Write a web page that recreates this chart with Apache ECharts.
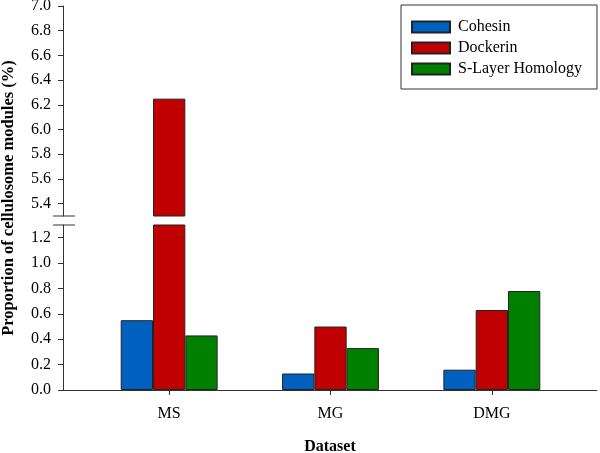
<!DOCTYPE html>
<html>
<head>
<meta charset="utf-8">
<script src="https://cdn.jsdelivr.net/npm/echarts@6/dist/echarts.min.js"></script>
<style>
  html, body { margin: 0; padding: 0; background: #fff; }
  #main { width: 600px; height: 453px; }
</style>
</head>
<body>
<div id="main"></div>
<script>
// 数据
var categories = ["MS", "MG", "DMG"];
var cohesin = [0.55, 0.13, 0.16];
var dockerin = [6.25, 0.50, 0.63];
var slh = [0.43, 0.33, 0.78];
var seriesNames = ["Cohesin", "Dockerin", "S-Layer Homology"];
var seriesData = [cohesin, dockerin, slh];
var colors = ["#0060c0", "#c00000", "#008000"];

var FONT = "Liberation Serif";
var AXIS_COLOR = "#333";

var myChart = echarts.init(document.getElementById("main"), null, { renderer: "canvas" });

// 下半段 (grid 1) 和 上半段 (grid 2) 各画一套柱子
var series = [];
[1, 2].forEach(function (g) {
  seriesData.forEach(function (d, i) {
    series.push({
      name: seriesNames[i],
      type: "bar",
      xAxisIndex: g,
      yAxisIndex: g,
      barWidth: 32.3,
      barGap: "0%",
      data: d,
      itemStyle: { color: colors[i], borderColor: "#222", borderWidth: 1 }
    });
  });
});

myChart.setOption({
  animation: false,
  textStyle: { fontFamily: FONT },
  legend: {
    orient: "vertical",
    left: 401,
    top: 5,
    padding: [14, 15, 12, 10],
    borderColor: AXIS_COLOR,
    borderWidth: 1,
    icon: "rect",
    itemWidth: 38,
    itemHeight: 11,
    itemGap: 5,
    textStyle: { fontFamily: FONT, fontSize: 16, color: "#000", padding: [0, 0, 0, 3] },
    data: seriesNames
  },
  grid: [
    // 外框: x 轴线和坐标轴名称
    { left: 63, right: 3, top: 6, bottom: 63, outerBoundsMode: "none" },
    // 下半段 0 - 1.3
    { left: 88.5, right: 27.5, top: 225, bottom: 63, outerBoundsMode: "none" },
    // 上半段 5.3 - 7.0
    { left: 88.5, right: 27.5, top: 6, bottom: 237, outerBoundsMode: "none" }
  ],
  xAxis: [
    {
      gridIndex: 0, type: "value", min: 0, max: 1,
      axisLine: { show: true, onZero: false, lineStyle: { color: AXIS_COLOR } },
      axisTick: { show: false }, axisLabel: { show: false }, splitLine: { show: false },
      name: "Dataset", nameLocation: "middle", nameGap: 49,
      nameTextStyle: { fontFamily: FONT, fontSize: 16, fontWeight: "bold", color: "#000" }
    },
    {
      gridIndex: 1, type: "category", data: categories,
      axisLine: { show: false, onZero: false },
      axisTick: { show: true, alignWithLabel: true, length: 5, lineStyle: { color: AXIS_COLOR } },
      axisLabel: { margin: 16, fontFamily: FONT, fontSize: 16, color: "#000" },
      splitLine: { show: false }
    },
    {
      gridIndex: 2, type: "category", data: categories, show: false
    }
  ],
  yAxis: [
    {
      gridIndex: 0, type: "value", min: 0, max: 1,
      axisLine: { show: false }, axisTick: { show: false }, axisLabel: { show: false },
      splitLine: { show: false },
      name: "Proportion of cellulosome modules (%)", nameLocation: "middle", nameGap: 46,
      nameTextStyle: { fontFamily: FONT, fontSize: 16.5, fontWeight: "bold", color: "#000" }
    },
    {
      gridIndex: 1, type: "value", min: 0, max: 1.3, interval: 0.2, offset: 25.5,
      axisLine: { show: true, lineStyle: { color: AXIS_COLOR } },
      axisTick: { show: true, length: 5, lineStyle: { color: AXIS_COLOR } },
      axisLabel: {
        margin: 12, fontFamily: FONT, fontSize: 16, color: "#000",
        showMaxLabel: false,
        formatter: function (v) { return v.toFixed(1); }
      },
      splitLine: { show: false }
    },
    {
      gridIndex: 2, type: "value", min: 5.3, max: 7.0, splitNumber: 8, offset: 25.5,
      axisLine: { show: true, lineStyle: { color: AXIS_COLOR } },
      axisTick: { show: true, length: 5, lineStyle: { color: AXIS_COLOR } },
      axisLabel: {
        margin: 12, fontFamily: FONT, fontSize: 16, color: "#000",
        showMinLabel: false,
        formatter: function (v) { return v.toFixed(1); }
      },
      splitLine: { show: false }
    }
  ],
  // 断轴标记
  graphic: [
    { type: "line", shape: { x1: 53, y1: 216, x2: 75, y2: 216 }, style: { stroke: AXIS_COLOR, lineWidth: 1 } },
    { type: "line", shape: { x1: 53, y1: 225, x2: 75, y2: 225 }, style: { stroke: AXIS_COLOR, lineWidth: 1 } }
  ],
  series: series
});

window.addEventListener("resize", function () {
  myChart.resize();
});
</script>
</body>
</html>
